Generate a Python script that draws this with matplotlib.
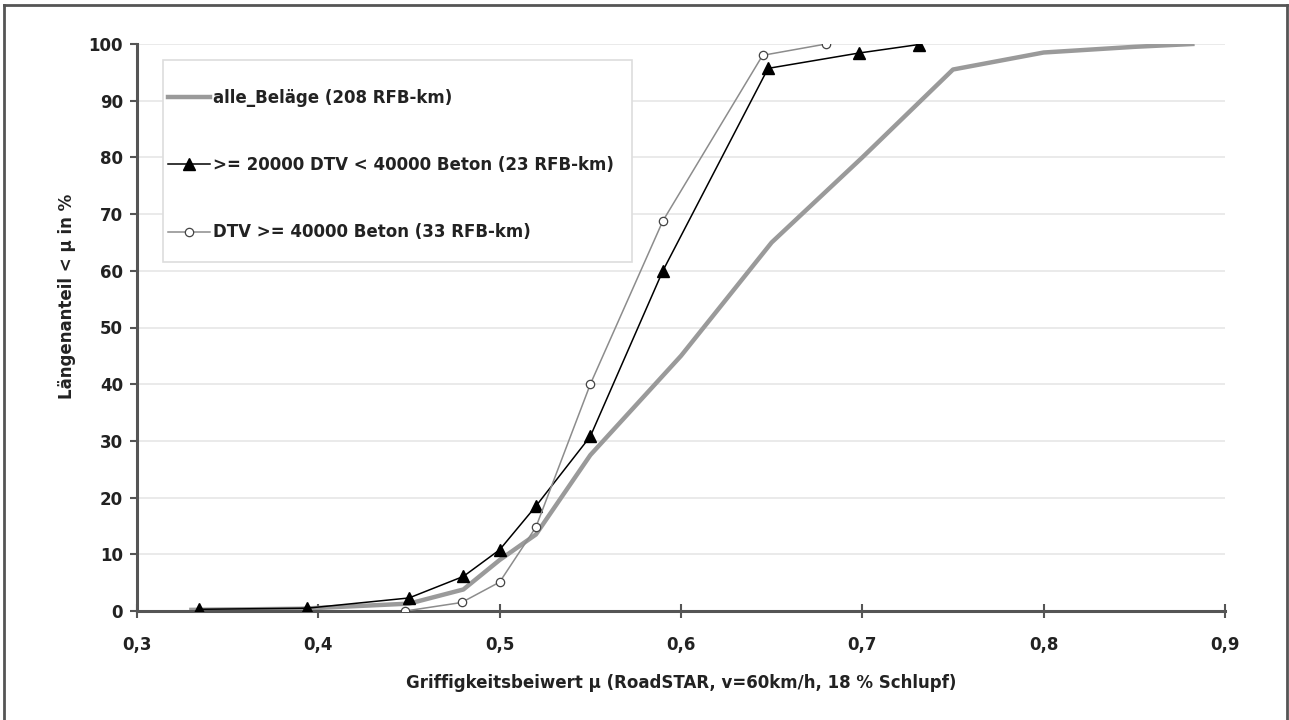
import matplotlib.pyplot as plt
from matplotlib.lines import Line2D
from matplotlib.patches import Rectangle

plt.rcParams['font.family'] = ['DejaVu Sans']

# alle Beläge
mu_all = [0.33, 0.39, 0.45, 0.48, 0.50, 0.52, 0.55, 0.60, 0.65, 0.70, 0.75, 0.80, 0.85, 0.882]
p_all = [0.2, 0.4, 1.3, 3.8, 9.0, 13.5, 27.5, 45.0, 65.0, 80.0, 95.5, 98.5, 99.5, 100.0]

# >= 20000 DTV < 40000 Beton
mu_mid = [0.334, 0.394, 0.45, 0.48, 0.50, 0.52, 0.55, 0.59, 0.648, 0.698, 0.731]
p_mid = [0.3, 0.5, 2.3, 6.1, 10.8, 18.5, 30.8, 60.0, 95.7, 98.4, 99.9]

# DTV >= 40000 Beton
mu_high = [0.448, 0.479, 0.50, 0.52, 0.55, 0.59, 0.645, 0.68]
p_high = [0.0, 1.5, 5.1, 14.8, 40.0, 68.8, 98.0, 100.0]

x_ticks = [0.3, 0.4, 0.5, 0.6, 0.7, 0.8, 0.9]
x_labels = ['0,3', '0,4', '0,5', '0,6', '0,7', '0,8', '0,9']
y_ticks = list(range(0, 101, 10))

labels = ['alle_Beläge (208 RFB-km)',
          '>= 20000 DTV < 40000 Beton (23 RFB-km)',
          'DTV >= 40000 Beton (33 RFB-km)']

FS = 12
fig = plt.figure(figsize=(12.89, 7.2), dpi=100)
ax = fig.add_axes([137/1289, 109/720, 1088/1289, 567/720])

ax.plot(mu_all, p_all, color='#9a9a9a', lw=3.2, zorder=2)
ax.plot(mu_mid, p_mid, color='black', lw=1.1, marker='^', ms=8,
        mfc='black', mec='black', zorder=3)
ax.plot(mu_high, p_high, color='#8c8c8c', lw=1.1, marker='o', ms=6,
        mfc='white', mec='#444444', mew=0.9, zorder=4)

ax.set_xlim(0.3, 0.9)
ax.set_ylim(0, 100)
ax.set_xticks(x_ticks)
ax.set_xticklabels(x_labels)
ax.set_yticks(y_ticks)
ax.yaxis.grid(True, color='#e6e6e6', lw=1.2)
ax.set_axisbelow(True)

for s in ['top', 'right']:
    ax.spines[s].set_visible(False)
for s in ['left', 'bottom']:
    ax.spines[s].set_color('#555555')
    ax.spines[s].set_linewidth(2.2)

ax.tick_params(axis='x', direction='inout', length=10, width=1.5,
               color='#555555', pad=13, labelsize=FS)
ax.tick_params(axis='y', direction='out', length=5, width=1.5,
               color='#555555', pad=5, labelsize=FS)
for t in ax.get_xticklabels() + ax.get_yticklabels():
    t.set_fontweight('bold')
    t.set_color('#222222')

ax.set_xlabel('Griffigkeitsbeiwert µ (RoadSTAR, v=60km/h, 18 % Schlupf)',
              fontsize=FS, fontweight='bold', color='#222222')
ax.xaxis.set_label_coords(0.5, (611 - 683) / 567)
ax.set_ylabel('Längenanteil < µ in %', fontsize=FS, fontweight='bold',
              color='#222222')
ax.yaxis.set_label_coords((67 - 137) / 1088, (611 - 296) / 567)
ax.yaxis.label.set_va('center')
ax.xaxis.label.set_va('center')

# legend box (drawn separately, the entries sit inside it)
box = Rectangle(((163 - 137) / 1088, (611 - 262) / 567), (632 - 163) / 1088,
                (262 - 60) / 567, transform=ax.transAxes, facecolor='white',
                edgecolor='#dddddd', lw=1.2, zorder=5)
ax.add_patch(box)

handles = [
    Line2D([], [], color='#9a9a9a', lw=3.2),
    Line2D([], [], color='black', lw=1.1, marker='^', ms=8, mfc='black'),
    Line2D([], [], color='#8c8c8c', lw=1.1, marker='o', ms=6, mfc='white',
           mec='#444444', mew=0.9),
]
leg = ax.legend(handles, labels, loc='upper left',
                bbox_to_anchor=((168 - 137) / 1088, (611 - 89) / 567),
                frameon=False, handlelength=2.5, handletextpad=0.2,
                labelspacing=2.95, borderpad=0, borderaxespad=0,
                prop={'size': FS, 'weight': 'bold'})
leg.set_zorder(6)
for t in leg.get_texts():
    t.set_color('#222222')

# outer frame of the figure
fig.add_artist(Line2D([4/1289, 4/1289], [0, 1 - 5/720], transform=fig.transFigure,
                      color='#555555', lw=2))
fig.add_artist(Line2D([4/1289, 1287/1289], [1 - 5/720, 1 - 5/720],
                      transform=fig.transFigure, color='#555555', lw=2))
fig.add_artist(Line2D([1287/1289, 1287/1289], [0, 1 - 5/720],
                      transform=fig.transFigure, color='#555555', lw=2))

fig.savefig('out.png', dpi=100)
